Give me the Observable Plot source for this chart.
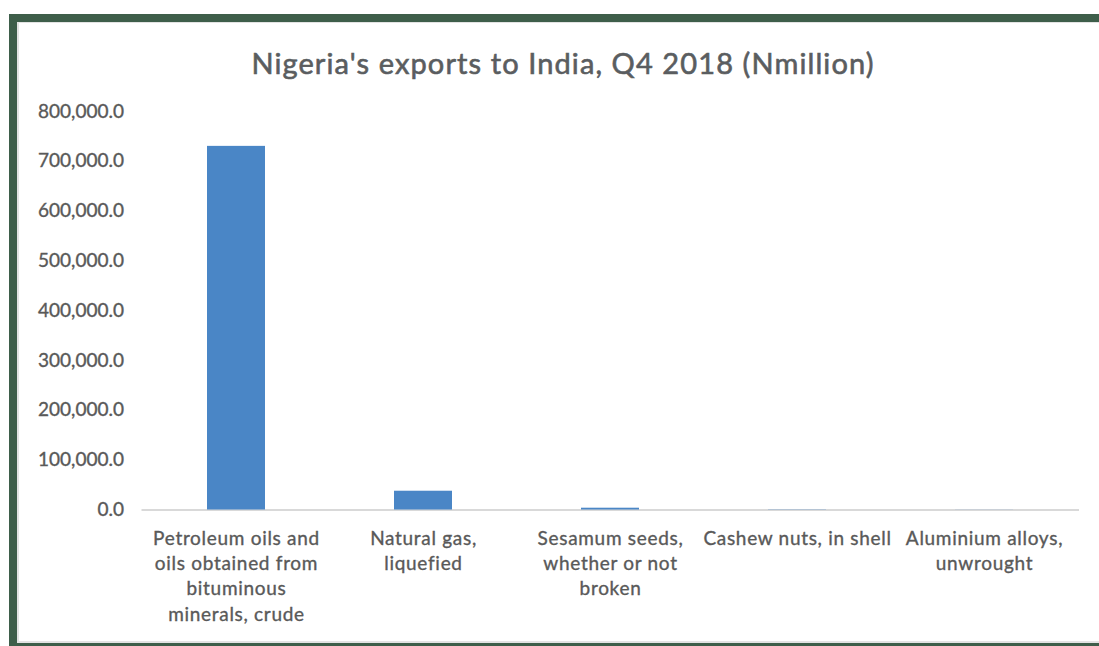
<!DOCTYPE html>
<html>
<head>
<meta charset="utf-8">
<script src="https://cdn.jsdelivr.net/npm/d3@7"></script>
<script src="https://cdn.jsdelivr.net/npm/@observablehq/plot@0.6"></script>
<style>
  html, body { margin: 0; padding: 0; background: #ffffff; }
  #page { position: relative; width: 1099px; height: 646px; overflow: hidden; background: #ffffff; }
  #frame { position: absolute; left: 9px; top: 14px; width: 1090px; height: 632px; background: #3e5e4a; }
  #inner { position: absolute; left: 17px; top: 22px; right: 0; bottom: 3px; background: #ffffff;
           border-left: 2px solid #e3e3e3; border-bottom: 2px solid #e3e3e3; border-top: 1px solid #e3e3e3; box-sizing: border-box; }
  #title { position: absolute; left: 0; width: 1126px; top: 44px; text-align: center;
           font-family: Lato, "Open Sans", sans-serif; font-size: 29px; letter-spacing: 1.1px; color: #5a5d60;
           -webkit-text-stroke: 0.6px #5a5d60; line-height: 38px; }
  #chart { position: absolute; left: 20px; top: 90px; }
  #chart svg text { stroke: #595959; stroke-width: 0.35px; }
  #chart svg g[aria-label="x-axis tick label"] text { letter-spacing: 0.7px; }
</style>
</head>
<body>
<div id="page">
  <div id="frame"></div>
  <div id="inner"></div>
  <div id="title">Nigeria's exports to India, Q4 2018 (Nmillion)</div>
  <div id="chart"></div>
</div>
<script>
const categories = [
  "Petroleum oils and oils obtained from bituminous minerals, crude",
  "Natural gas, liquefied",
  "Sesamum seeds, whether or not broken",
  "Cashew nuts, in shell",
  "Aluminium alloys, unwrought"
];
const tickLabels = [
  "Petroleum oils and\noils obtained from\nbituminous\nminerals, crude",
  "Natural gas,\nliquefied",
  "Sesamum seeds,\nwhether or not\nbroken",
  "Cashew nuts, in shell",
  "Aluminium alloys,\nunwrought"
];
const values = [730000, 37700, 3600, 500, 200];
const yTicks = [0, 100000, 200000, 300000, 400000, 500000, 600000, 700000, 800000];

const data = categories.map((c, i) => ({category: c, value: values[i]}));
const labelOf = new Map(categories.map((c, i) => [c, tickLabels[i]]));

const chart = Plot.plot({
  width: 1079,
  height: 550,
  marginLeft: 121.5,
  marginRight: 20,
  marginTop: 21,
  marginBottom: 130.5,
  style: {background: "transparent", fontFamily: "Lato, 'Open Sans', sans-serif", fontSize: "19px", color: "#595959"},
  x: {domain: categories, paddingInner: 0.69, paddingOuter: 0.345, label: null},
  y: {domain: [0, 800000], label: null},
  marks: [
    Plot.ruleY([0], {stroke: "#d9d9d9", strokeWidth: 2}),
    Plot.barY(data, {x: "category", y: "value", fill: "#4a86c6"}),
    Plot.axisY({ticks: yTicks, tickFormat: d3.format(",.1f"), tickSize: 0, tickPadding: 18, label: null}),
    Plot.axisX({tickSize: 0, tickPadding: 17, tickFormat: d => labelOf.get(d), lineHeight: 1.33, label: null})
  ]
});
document.getElementById("chart").appendChild(chart);
</script>
</body>
</html>
